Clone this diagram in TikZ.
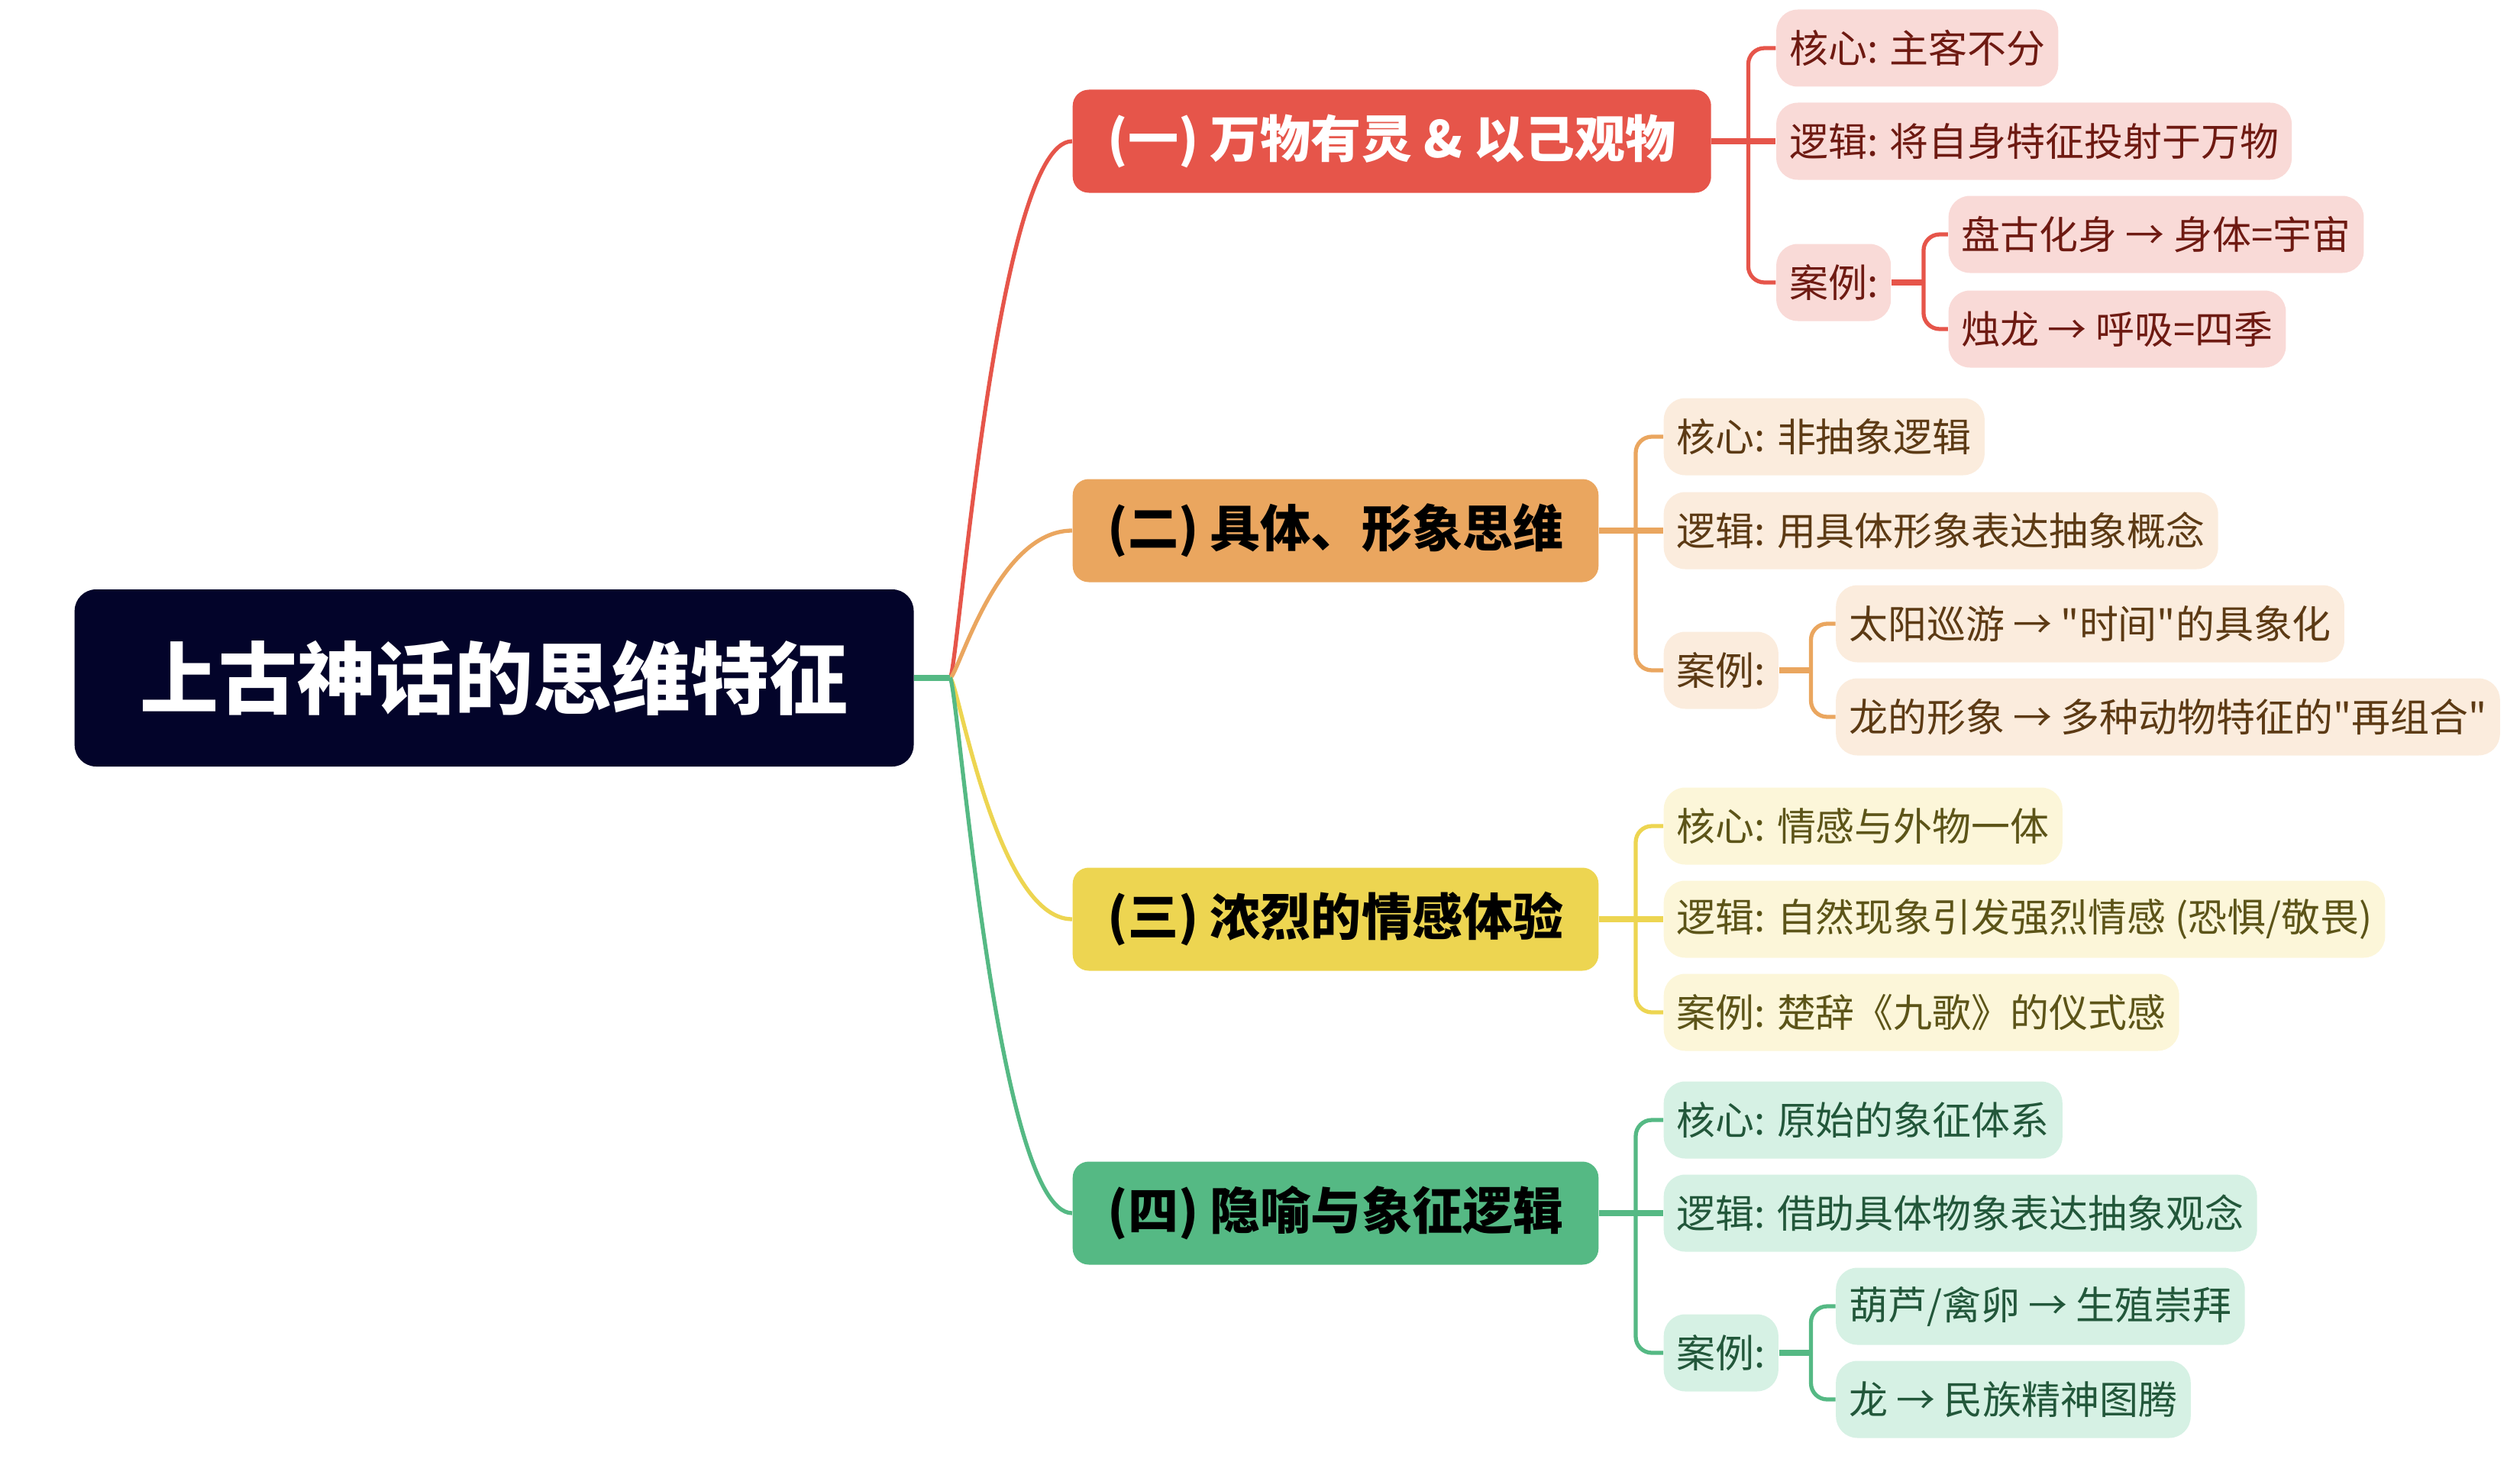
\documentclass[tikz,border=0pt]{standalone}
\usepackage{fontspec}
\setmainfont{Noto Sans CJK SC}[Ligatures=TeXOff]
\usetikzlibrary{positioning, calc}
\definecolor{rootnavy}{HTML}{03042A}
\definecolor{redbr}{HTML}{E6554A}
\definecolor{orangebr}{HTML}{EAA65F}
\definecolor{yellowbr}{HTML}{EDD551}
\definecolor{greenbr}{HTML}{55B984}
\definecolor{redleaf}{HTML}{F9DAD7}
\definecolor{orangeleaf}{HTML}{FBECDD}
\definecolor{yellowleaf}{HTML}{FCF6D9}
\definecolor{greenleaf}{HTML}{D6F1E4}
\definecolor{redtext}{HTML}{6E1A12}
\definecolor{orangetext}{HTML}{5C3A14}
\definecolor{yellowtext}{HTML}{5C5418}
\definecolor{greentext}{HTML}{22573A}

\begin{document}
\begin{tikzpicture}[
  branch/.style={rounded corners=6pt, minimum height=1.35cm, inner xsep=0.46cm,
                 anchor=west, font=\fontsize{18.8}{22}\selectfont\bfseries},
  leaf/.style={rounded corners=8pt, minimum height=1.01cm, inner xsep=0.17cm,
               font=\fontsize{14.5}{17}\selectfont},
  trunk/.style={line width=2.3pt},
  limb/.style={line width=1.5pt},
  twig/.style={line width=1.5pt, rounded corners=6pt}
]
\useasboundingbox (0,0) rectangle (33,-19.14);

% =========== Root ===========
\node[fill=rootnavy, text=white, rounded corners=8pt, anchor=west,
      minimum height=2.32cm, inner xsep=0.86cm,
      font=\fontsize{29.3}{32}\selectfont\bfseries] (root) at (0.97,-8.88) {上古神话的思维特征};
\coordinate (J) at (12.44,-8.88);

% =========== Branches ===========
\node[branch, fill=redbr, text=white] (b1) at (14.04,-1.85) {(一) 万物有灵 \& 以己观物};
\node[branch, fill=orangebr, text=black] (b2) at (14.04,-6.95) {(二) 具体、形象思维};
\node[branch, fill=yellowbr, text=black] (b3) at (14.04,-12.04) {(三) 浓烈的情感体验};
\node[branch, fill=greenbr, text=black] (b4) at (14.04,-15.89) {(四) 隐喻与象征逻辑};

\draw[limb, redbr] (J) .. controls +(0.1,0) and +(-1.0,0) .. (b1.west);
\draw[limb, orangebr] (J) .. controls +(0.1,0) and +(-1.0,0) .. (b2.west);
\draw[limb, yellowbr] (J) .. controls +(0.1,0) and +(-1.0,0) .. (b3.west);
\draw[limb, greenbr] (J) .. controls +(0.1,0) and +(-1.0,0) .. (b4.west);
\draw[trunk, greenbr] (root.east) -- (J);

% =========== (一) ===========
\node[leaf, fill=redleaf, text=redtext, right=0.84cm of b1, yshift=1.22cm] (b1core) {核心: 主客不分};
\node[leaf, fill=redleaf, text=redtext, right=0.84cm of b1] (b1logic) {逻辑: 将自身特征投射于万物};
\node[leaf, fill=redleaf, text=redtext, right=0.84cm of b1, yshift=-1.85cm] (b1case) {案例:};
\node[leaf, fill=redleaf, text=redtext, right=0.74cm of b1case, yshift=0.63cm] (b1ex1) {盘古化身 → 身体=宇宙};
\node[leaf, fill=redleaf, text=redtext, right=0.74cm of b1case, yshift=-0.61cm] (b1ex2) {烛龙 → 呼吸=四季};

\coordinate (b1spine) at ($(b1.east)+(0.48,0)$);
\draw[trunk, redbr] (b1.east) -- (b1logic.west);
\draw[twig, redbr] (b1spine) |- (b1core.west);
\draw[twig, redbr] (b1spine) |- (b1case.west);
\coordinate (c1spine) at ($(b1case.east)+(0.42,0)$);
\draw[trunk, redbr] (b1case.east) -- (c1spine);
\draw[twig, redbr] (c1spine) |- (b1ex1.west);
\draw[twig, redbr] (c1spine) |- (b1ex2.west);

% =========== (二) ===========
\node[leaf, fill=orangeleaf, text=orangetext, right=0.84cm of b2, yshift=1.23cm] (b2core) {核心: 非抽象逻辑};
\node[leaf, fill=orangeleaf, text=orangetext, right=0.84cm of b2] (b2logic) {逻辑: 用具体形象表达抽象概念};
\node[leaf, fill=orangeleaf, text=orangetext, right=0.84cm of b2, yshift=-1.83cm] (b2case) {案例:};
\node[leaf, fill=orangeleaf, text=orangetext, right=0.74cm of b2case, yshift=0.61cm] (b2ex1) {太阳巡游 → "时间"的具象化};
\node[leaf, fill=orangeleaf, text=orangetext, right=0.74cm of b2case, yshift=-0.61cm] (b2ex2) {龙的形象 → 多种动物特征的"再组合"};

\coordinate (b2spine) at ($(b2.east)+(0.48,0)$);
\draw[trunk, orangebr] (b2.east) -- (b2logic.west);
\draw[twig, orangebr] (b2spine) |- (b2core.west);
\draw[twig, orangebr] (b2spine) |- (b2case.west);
\coordinate (c2spine) at ($(b2case.east)+(0.42,0)$);
\draw[trunk, orangebr] (b2case.east) -- (c2spine);
\draw[twig, orangebr] (c2spine) |- (b2ex1.west);
\draw[twig, orangebr] (c2spine) |- (b2ex2.west);

% =========== (三) ===========
\node[leaf, fill=yellowleaf, text=yellowtext, right=0.84cm of b3, yshift=1.22cm] (b3core) {核心: 情感与外物一体};
\node[leaf, fill=yellowleaf, text=yellowtext, right=0.84cm of b3] (b3logic) {逻辑: 自然现象引发强烈情感 (恐惧/敬畏)};
\node[leaf, fill=yellowleaf, text=yellowtext, right=0.84cm of b3, yshift=-1.22cm] (b3case) {案例: 楚辞《九歌》的仪式感};

\coordinate (b3spine) at ($(b3.east)+(0.48,0)$);
\draw[trunk, yellowbr] (b3.east) -- (b3logic.west);
\draw[twig, yellowbr] (b3spine) |- (b3core.west);
\draw[twig, yellowbr] (b3spine) |- (b3case.west);

% =========== (四) ===========
\node[leaf, fill=greenleaf, text=greentext, right=0.84cm of b4, yshift=1.22cm] (b4core) {核心: 原始的象征体系};
\node[leaf, fill=greenleaf, text=greentext, right=0.84cm of b4] (b4logic) {逻辑: 借助具体物象表达抽象观念};
\node[leaf, fill=greenleaf, text=greentext, right=0.84cm of b4, yshift=-1.83cm] (b4case) {案例:};
\node[leaf, fill=greenleaf, text=greentext, right=0.74cm of b4case, yshift=0.61cm] (b4ex1) {葫芦/禽卵 → 生殖崇拜};
\node[leaf, fill=greenleaf, text=greentext, right=0.74cm of b4case, yshift=-0.61cm] (b4ex2) {龙 → 民族精神图腾};

\coordinate (b4spine) at ($(b4.east)+(0.48,0)$);
\draw[trunk, greenbr] (b4.east) -- (b4logic.west);
\draw[twig, greenbr] (b4spine) |- (b4core.west);
\draw[twig, greenbr] (b4spine) |- (b4case.west);
\coordinate (c4spine) at ($(b4case.east)+(0.42,0)$);
\draw[trunk, greenbr] (b4case.east) -- (c4spine);
\draw[twig, greenbr] (c4spine) |- (b4ex1.west);
\draw[twig, greenbr] (c4spine) |- (b4ex2.west);

\end{tikzpicture}
\end{document}
